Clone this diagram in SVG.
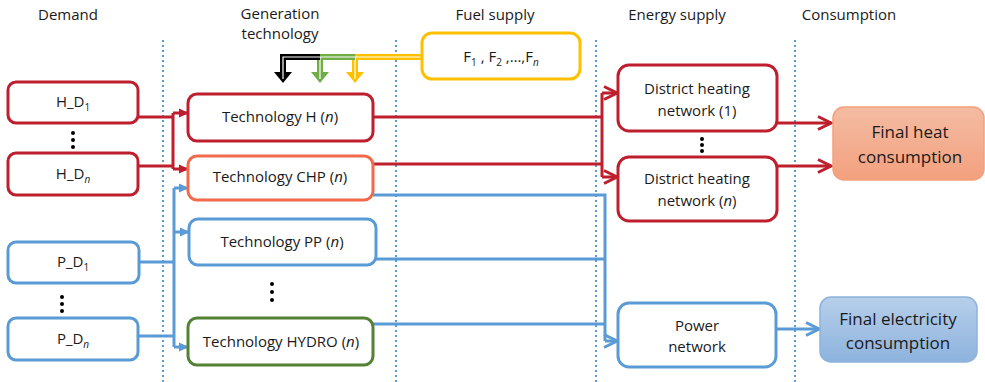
<svg xmlns="http://www.w3.org/2000/svg" width="985" height="382" viewBox="0 0 985 382">
<defs>
<linearGradient id="gHeat" x1="0" y1="0" x2="0" y2="1"><stop offset="0" stop-color="#f4bca3"/><stop offset="1" stop-color="#f3a07e"/></linearGradient>
<linearGradient id="gElec" x1="0" y1="0" x2="0" y2="1"><stop offset="0" stop-color="#b7cfea"/><stop offset="1" stop-color="#8db3dd"/></linearGradient>
<marker id="triR" markerWidth="10" markerHeight="10" refX="9" refY="5" orient="auto" markerUnits="userSpaceOnUse"><path d="M0,0.5 L10,5 L0,9.5 Z" fill="#be1e2d"/></marker>
<marker id="triB" markerWidth="10" markerHeight="10" refX="9" refY="5" orient="auto" markerUnits="userSpaceOnUse"><path d="M0,0.5 L10,5 L0,9.5 Z" fill="#5b9bd5"/></marker>
<marker id="chevR" markerWidth="18" markerHeight="16" refX="15" refY="8" orient="auto" markerUnits="userSpaceOnUse"><path d="M2,1.5 L15,8 L2,14.5" fill="none" stroke="#be1e2d" stroke-width="3"/></marker>
<marker id="chevB" markerWidth="18" markerHeight="16" refX="15" refY="8" orient="auto" markerUnits="userSpaceOnUse"><path d="M2,1.5 L15,8 L2,14.5" fill="none" stroke="#5b9bd5" stroke-width="3"/></marker>
</defs>
<style>
text{font-family:"Open Sans","Noto Sans","Liberation Sans",sans-serif;fill:#1a1a1a;font-size:15px;text-anchor:middle}
.hdr{font-size:15px}
.box{fill:#fff;stroke-width:3}
.red{stroke:#be1e2d}
.blue{stroke:#5b9bd5}
.chp{stroke:#f26a4b}
.grn{stroke:#548235}
.yel{stroke:#ffc000}
.dot{stroke:#5b9bd5;stroke-width:2;stroke-dasharray:2 3;fill:none}
.lr{fill:none;stroke:#be1e2d;stroke-width:3}
.lb{fill:none;stroke:#5b9bd5;stroke-width:3}
.sub{font-size:10px}
</style>
<rect width="985" height="382" fill="#fff"/>
<g id="headers">
<text x="68" y="20" class="hdr">Demand</text>
<text x="280" y="19" class="hdr">Generation</text>
<text x="280" y="39" class="hdr">technology</text>
<text x="495" y="20" class="hdr">Fuel supply</text>
<text x="677" y="20" class="hdr">Energy supply</text>
<text x="849" y="20" class="hdr">Consumption</text>
</g>
<g id="dividers">
<line x1="163" y1="40" x2="163" y2="382" class="dot"/>
<line x1="396" y1="40" x2="396" y2="382" class="dot"/>
<line x1="596" y1="40" x2="596" y2="382" class="dot"/>
<line x1="795" y1="40" x2="795" y2="382" class="dot"/>
</g>
<g id="connectors">
<!-- heat demand to tech -->
<path class="lr" d="M138,117 H173"/>
<path class="lr" d="M138,166 H173"/>
<path class="lr" d="M173,113 V169"/>
<path class="lr" d="M173,113 H188" marker-end="url(#triR)"/>
<path class="lr" d="M173,169 H188" marker-end="url(#triR)"/>
<!-- power demand to tech -->
<path class="lb" d="M139,262 H174"/>
<path class="lb" d="M139,336 H174"/>
<path class="lb" d="M174,188 V347"/>
<path class="lb" d="M174,188 H188" marker-end="url(#triB)"/>
<path class="lb" d="M174,232 H189" marker-end="url(#triB)"/>
<path class="lb" d="M174,347 H188" marker-end="url(#triB)"/>
<!-- tech to heat networks -->
<path class="lr" d="M373,117 H602"/>
<path class="lr" d="M373,164 H602"/>
<path class="lr" d="M602,93 V177"/>
<path class="lr" d="M602,93 H617" marker-end="url(#chevR)"/>
<path class="lr" d="M602,177 H617" marker-end="url(#chevR)"/>
<!-- tech to power network -->
<path class="lb" d="M373,195 H605 V341"/>
<path class="lb" d="M376,259 H605"/>
<path class="lb" d="M373,324 H605"/>
<path class="lb" d="M605,341 H617" marker-end="url(#chevB)"/>
<!-- networks to consumption -->
<path class="lr" d="M777,123 H831" marker-end="url(#chevR)"/>
<path class="lr" d="M777,166 H831" marker-end="url(#chevR)"/>
<path class="lb" d="M776,329 H819" marker-end="url(#chevB)"/>
<!-- fuel arrows (double lines) -->
<g id="fuel-arrows">
<path d="M422,57 H355 V74" fill="none" stroke="#ffc000" stroke-width="6"/>
<path d="M422,57 H355 V74" fill="none" stroke="#fff" stroke-width="1.2"/>
<path d="M346,72 L364,72 L355,83 Z" fill="#ffc000"/>
<path d="M355,72 V79" stroke="#fff" stroke-width="1.2"/>
<path d="M355,57 H320 V74" fill="none" stroke="#70ad47" stroke-width="6"/>
<path d="M355,57 H320 V74" fill="none" stroke="#fff" stroke-width="1.2"/>
<path d="M311,72 L329,72 L320,83 Z" fill="#70ad47"/>
<path d="M320,72 V79" stroke="#fff" stroke-width="1.2"/>
<path d="M320,57 H283 V74" fill="none" stroke="#000" stroke-width="6"/>
<path d="M320,57 H283 V74" fill="none" stroke="#fff" stroke-width="1.2"/>
<path d="M274,72 L292,72 L283,83 Z" fill="#000"/>
<path d="M283,72 V79" stroke="#fff" stroke-width="1.2"/>
</g>
</g>
<g id="fuel">
<rect x="422" y="33" width="158" height="46" rx="10" class="box yel"/>
<text x="501" y="62">F<tspan class="sub" dy="4">1</tspan><tspan dy="-4"> , F</tspan><tspan class="sub" dy="4">2</tspan><tspan dy="-4"> ,…,F</tspan><tspan class="sub" dy="4" font-style="italic">n</tspan></text>
</g>
<g id="hd1">
<rect x="8" y="82" width="130" height="41" rx="8" class="box red"/>
<text x="73" y="107">H_D<tspan class="sub" dy="4">1</tspan></text>
</g>
<g id="hdn">
<rect x="8" y="153" width="130" height="42" rx="8" class="box red"/>
<text x="73" y="179">H_D<tspan class="sub" dy="4" font-style="italic">n</tspan></text>
</g>
<g id="pd1">
<rect x="8" y="242" width="131" height="41" rx="8" class="box blue"/>
<text x="73" y="267">P_D<tspan class="sub" dy="4">1</tspan></text>
</g>
<g id="pdn">
<rect x="8" y="318" width="130" height="42" rx="8" class="box blue"/>
<text x="73" y="344">P_D<tspan class="sub" dy="4" font-style="italic">n</tspan></text>
</g>
<g id="dots">
<circle cx="73" cy="133" r="2"/><circle cx="73" cy="140" r="2"/><circle cx="73" cy="147" r="2"/>
<circle cx="62" cy="297" r="2"/><circle cx="62" cy="304" r="2"/><circle cx="62" cy="311" r="2"/>
<circle cx="272" cy="284" r="2"/><circle cx="272" cy="292" r="2"/><circle cx="272" cy="300" r="2"/>
<circle cx="702" cy="139" r="2"/><circle cx="702" cy="145" r="2"/><circle cx="702" cy="151" r="2"/>
</g>
<g id="techH">
<rect x="188" y="94" width="185" height="47" rx="9" class="box red"/>
<text x="280" y="122">Technology H (<tspan font-style="italic">n</tspan>)</text>
</g>
<g id="techCHP">
<rect x="188" y="156" width="185" height="44" rx="9" class="box chp"/>
<text x="280" y="182">Technology CHP (<tspan font-style="italic">n</tspan>)</text>
</g>
<g id="techPP">
<rect x="189" y="219" width="187" height="46" rx="9" class="box blue"/>
<text x="282" y="247">Technology PP (<tspan font-style="italic">n</tspan>)</text>
</g>
<g id="techHYDRO">
<rect x="188" y="318" width="185" height="47" rx="9" class="box grn"/>
<text x="281" y="347">Technology HYDRO (<tspan font-style="italic">n</tspan>)</text>
</g>
<g id="dh1">
<rect x="618" y="65" width="159" height="66" rx="11" class="box red"/>
<text x="697" y="94">District heating</text>
<text x="697" y="116">network (1)</text>
</g>
<g id="dhn">
<rect x="618" y="157" width="159" height="64" rx="11" class="box red"/>
<text x="697" y="184">District heating</text>
<text x="697" y="206">network (<tspan font-style="italic">n</tspan>)</text>
</g>
<g id="power">
<rect x="618" y="303" width="158" height="64" rx="11" class="box blue"/>
<text x="697" y="331">Power</text>
<text x="697" y="352">network</text>
</g>
<g id="finalHeat">
<rect x="833" y="107" width="151" height="73" rx="11" fill="url(#gHeat)" stroke="#f4a07a" stroke-width="1.5"/>
<text x="910" y="138" style="font-size:17px">Final heat</text>
<text x="910" y="163" style="font-size:17px">consumption</text>
</g>
<g id="finalElec">
<rect x="820" y="297" width="157" height="65" rx="11" fill="url(#gElec)" stroke="#8db3dd" stroke-width="1.5"/>
<text x="898" y="325" style="font-size:17px">Final electricity</text>
<text x="898" y="349" style="font-size:17px">consumption</text>
</g>
</svg>
